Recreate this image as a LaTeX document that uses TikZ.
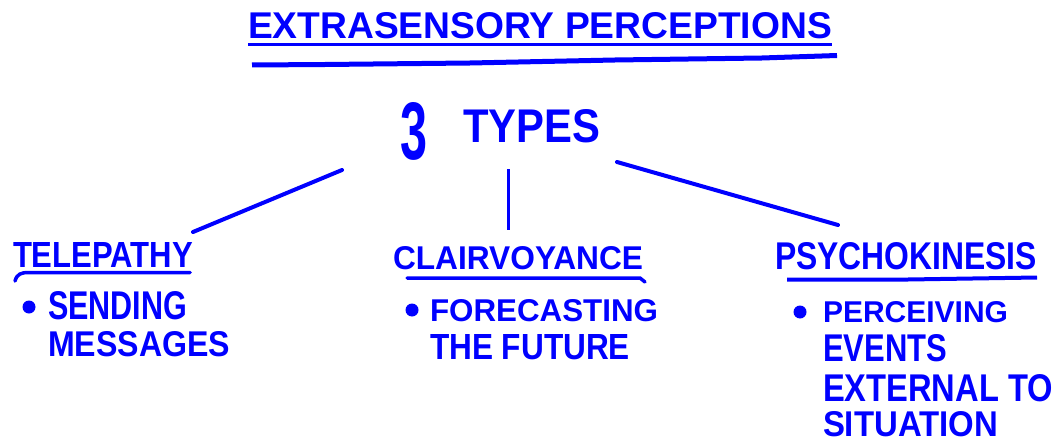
\documentclass[tikz,border=0pt]{standalone}
\usepackage{fontspec}
\setmainfont{Liberation Sans}
\newcommand\hw[3]{\resizebox{#1pt}{#2pt}{\bfseries #3}}
\begin{document}
\begin{tikzpicture}[x=1pt,y=-1pt,
  txt/.style={inner sep=0pt,outer sep=0pt,text=blue,anchor=south west},
  ink/.style={draw=blue,line width=4pt,line cap=round},
  thin ink/.style={draw=blue,line width=3pt,line cap=butt},
  dot/.style={fill=blue,circle,inner sep=0pt,minimum size=13pt}]
\useasboundingbox[fill=white] (0,0) rectangle (1054,441);
% title
\node[txt] (title) at (248,39) {\hw{584}{26}{EXTRASENSORY PERCEPTIONS}};
\draw[thin ink] (248,44.5) -- (832,44.5);
\draw[draw=blue,line width=5pt] (252,65) -- (325,64.5) -- (470,63) -- (615,60) -- (762,58) -- (837,55.5);
% 3 types
\node[txt] (three) at (400,160) {\hw{27}{57}{3}};
\node[txt] (types) at (463,143) {\hw{137}{33}{TYPES}};
% categories
\node[txt] (tele) at (13,267) {\hw{180}{25}{TELEPATHY}};
\node[txt] (clair) at (393,270) {\hw{250}{23}{CLAIRVOYANCE}};
\node[txt] (psycho) at (775,270) {\hw{262}{27}{PSYCHOKINESIS}};
% connectors
\coordinate (la) at (342,170);
\coordinate (lb) at (193,232);
\coordinate (ma) at (508,169);
\coordinate (mb) at (508,230);
\coordinate (ra) at (617,162);
\coordinate (rb) at (838,225);
\draw[ink] (la) -- (lb);
\draw[thin ink] (ma) -- (mb);
\draw[ink] (ra) -- (rb);
% underlines
\draw[draw=blue,line width=3.5pt,line cap=round] (15,281) .. controls (17,274) and (21,272.5) .. (29,272.5) -- (190,272.5);
\draw[draw=blue,line width=3.5pt,line cap=round] (407,278) -- (640,278) -- (645,282);
\draw[draw=blue,line width=4pt] (787,279.5) -- (908,279.5) -- (1037,277.5);
% telepathy items
\node[dot] (d1) at (29,307) {};
\node[txt] (t1a) at (48,320) {\hw{139}{28}{SENDING}};
\node[txt] (t1b) at (48,357) {\hw{182}{25}{MESSAGES}};
% clairvoyance items
\node[dot] (d2) at (412,310) {};
\node[txt] (t2a) at (430,322) {\hw{228}{22}{FORECASTING}};
\node[txt] (t2b) at (430,360) {\hw{200}{25}{THE FUTURE}};
% psychokinesis items
\node[dot] (d3) at (800,312) {};
\node[txt] (t3a) at (823,323) {\hw{185}{21}{PERCEIVING}};
\node[txt] (t3b) at (823,362) {\hw{124}{27}{EVENTS}};
\node[txt] (t3c) at (823,402) {\hw{230}{27}{EXTERNAL TO}};
\node[txt] (t3d) at (823,437) {\hw{175}{25}{SITUATION}};
\end{tikzpicture}
\end{document}
